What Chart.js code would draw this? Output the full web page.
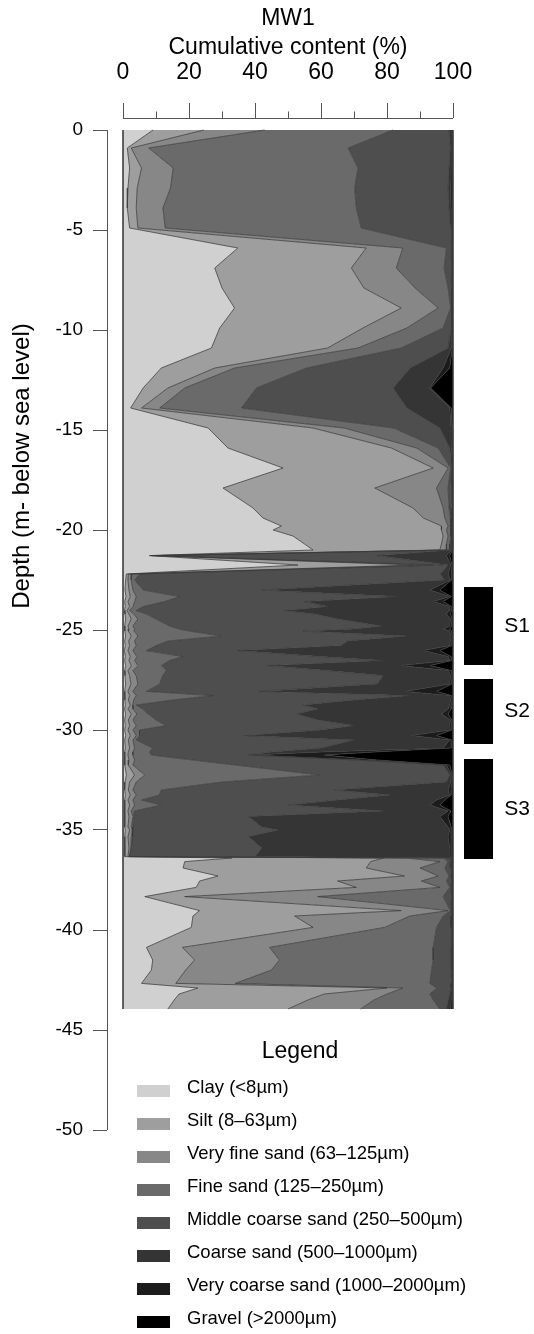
<!DOCTYPE html>
<html>
<head>
<meta charset="utf-8">
<script src="https://cdn.jsdelivr.net/npm/chart.js@4.4.0/dist/chart.umd.min.js"></script>
<style>
html, body { margin: 0; padding: 0; background: #fff; }
#wrap { position: relative; width: 534px; height: 1334px; font-family: "Liberation Sans", Arial, sans-serif; color: #000; }
#legendTitle { position: absolute; left: 200px; width: 200px; top: 1036px; text-align: center; font-size: 23px; line-height: 28px; }
.legBox { position: absolute; left: 137px; width: 33px; height: 12px; }
.legText { position: absolute; left: 187px; font-size: 18.5px; line-height: 22px; white-space: nowrap; }
</style>
</head>
<body>
<div id="wrap">
  <canvas id="profile" width="534" height="1334"></canvas>
  <div id="legendTitle">Legend</div>
  <div id="legend"></div>
</div>
<script>
// depth of each sample (m below sea level)
const depth = [
  0, -0.9, -1.9, -2.9, -3.9, -4.9, -5.9, -6.9, -7.9, -8.9,
  -9.9, -10.9, -11.9, -12.9, -13.9, -14.9, -15.9, -16.9, -17.9, -18.9,
  -19.4, -19.8, -20.0, -20.3, -20.7, -21.0, -21.28, -21.75, -22.2, -22.5,
  -23.0, -23.33, -23.58, -23.83, -24.03, -24.2, -24.45, -24.8, -24.95, -25.05,
  -25.3, -25.55, -25.78, -26.03, -26.33, -26.53, -26.78, -27.03, -27.28, -27.7,
  -28.07, -28.28, -28.5, -28.75, -28.95, -29.2, -29.5, -29.78, -30.0, -30.28,
  -30.5, -30.9, -31.1, -31.25, -31.5, -31.75, -32.25, -32.6, -33.0, -33.25,
  -33.5, -33.75, -34.05, -34.33, -34.85, -35.0, -35.33, -35.9, -36.33, -36.4,
  -36.58, -36.9, -37.3, -37.55, -37.87, -38.33, -39.03, -39.3, -39.87, -40.87,
  -41.5, -42.0, -42.67, -42.9, -43.2, -43.5, -43.95
];

// cumulative content (%) at the upper limit of each class
const cumClay = [
  9.1, 1.3, 2.0, 1.5, 1.3, 2.0, 34.8, 27.8, 30.0, 33.8,
  29.3, 26.8, 11.6, 6.1, 2.3, 25.8, 31.8, 48.5, 30.3, 39.4,
  42.4, 48.0, 45.5, 51.5, 55.0, 57.6, 8.0, 53.0, 1.0, 0.8,
  0.6, 0.9, 0.5, 0.7, 0.4, 0.6, 0.8, 0.5, 0.6, 0.5,
  0.8, 0.5, 0.7, 0.4, 0.7, 0.5, 0.8, 0.5, 0.6, 0.8,
  0.5, 0.6, 0.5, 0.7, 0.5, 0.8, 0.5, 0.7, 0.5, 0.8,
  0.5, 0.7, 0.5, 0.5, 0.6, 0.5, 1.0, 0.6, 0.5, 0.7,
  0.5, 0.6, 0.4, 0.6, 0.5, 0.7, 0.5, 0.6, 0.5, 33.0,
  18.7, 18.2, 28.8, 23.2, 22.2, 6.6, 23.2, 21.2, 20.7, 7.1,
  9.0, 8.6, 5.6, 22.7, 17.0, 15.5, 13.6
];
const cumSilt = [
  24.5, 2.5, 5.6, 4.3, 4.0, 4.5, 73.7, 69.2, 73.0, 84.3,
  72.7, 62.0, 27.8, 13.6, 5.6, 57.6, 81.3, 94.0, 76.3, 87.9,
  91.0, 96.5, 96.5, 97.0, 96.5, 96.0, 8.5, 88.0, 1.6, 1.5,
  1.8, 2.2, 1.5, 2.0, 1.2, 1.8, 2.5, 1.5, 1.8, 1.6,
  2.5, 1.7, 2.0, 1.5, 2.2, 1.8, 2.5, 1.5, 2.0, 2.4,
  1.5, 2.0, 1.6, 2.2, 1.5, 2.5, 1.6, 2.0, 1.5, 2.2,
  1.6, 2.0, 1.6, 1.5, 1.8, 1.6, 3.5, 2.0, 1.6, 2.2,
  1.5, 2.0, 1.5, 1.8, 1.5, 2.0, 1.5, 1.8, 1.5, 79.0,
  75.0, 73.7, 85.3, 65.0, 70.7, 18.7, 84.3, 52.0, 57.6, 18.0,
  21.7, 19.0, 16.0, 80.0, 61.0, 56.0, 50.0
];
const cumVeryFine = [
  42.9, 7.8, 15.2, 14.4, 12.1, 12.8, 84.8, 82.8, 88.5, 95.5,
  86.0, 71.2, 33.8, 18.7, 11.1, 67.0, 89.0, 98.5, 95.0, 97.0,
  97.5, 98.5, 98.0, 98.5, 98.0, 98.0, 9.0, 94.0, 2.6, 2.5,
  3.0, 4.0, 3.5, 3.0, 2.0, 3.2, 4.5, 3.0, 3.5, 3.3,
  4.5, 3.5, 4.0, 3.0, 4.2, 3.5, 4.5, 3.0, 4.0, 4.5,
  3.0, 4.0, 3.2, 3.0, 3.0, 4.2, 3.0, 4.0, 3.0, 4.0,
  3.0, 3.5, 3.0, 3.0, 3.5, 3.0, 6.6, 4.0, 3.0, 4.0,
  3.0, 3.5, 2.5, 3.0, 2.5, 2.8, 2.5, 2.4, 1.9, 86.0,
  96.0, 90.0, 95.5, 90.4, 96.0, 59.0, 98.5, 86.9, 79.3, 44.4,
  47.4, 45.0, 34.0, 84.8, 80.0, 76.0, 72.0
];
const cumFine = [
  81.8, 68.2, 71.2, 70.2, 70.7, 72.2, 98.0, 97.3, 98.5, 99.3,
  97.0, 84.3, 55.6, 40.4, 35.9, 82.0, 95.5, 99.3, 98.5, 98.8,
  99.2, 99.3, 99.2, 99.3, 99.0, 99.0, 10.0, 97.0, 5.0, 3.5,
  6.1, 17.2, 12.5, 6.0, 4.0, 7.0, 10.0, 14.1, 17.0, 20.0,
  29.8, 13.6, 10.0, 7.1, 18.2, 14.0, 11.6, 13.1, 12.0, 11.1,
  7.1, 27.3, 15.0, 4.0, 6.0, 7.6, 10.0, 13.1, 5.0, 5.0,
  4.0, 9.0, 8.0, 8.6, 21.0, 34.0, 59.6, 30.0, 11.6, 11.0,
  5.6, 11.6, 3.5, 3.2, 3.0, 3.0, 2.8, 2.5, 2.0, 97.0,
  98.5, 97.5, 98.8, 98.0, 99.0, 97.0, 99.2, 97.0, 95.0, 94.0,
  94.0, 93.5, 93.0, 95.0, 93.0, 94.0, 96.0
];
const cumMiddle = [
  98.8, 99.2, 98.8, 98.5, 98.8, 99.2, 99.5, 99.3, 99.5, 99.6,
  99.5, 98.5, 87.0, 81.8, 86.0, 96.0, 99.0, 99.6, 99.3, 99.4,
  99.5, 99.6, 99.5, 99.6, 99.5, 99.5, 77.0, 98.5, 96.0, 97.5,
  42.0, 83.3, 55.0, 62.0, 49.0, 58.0, 65.0, 78.3, 70.0, 54.5,
  85.9, 68.0, 66.0, 34.8, 60.0, 78.8, 43.9, 62.0, 78.8, 77.0,
  41.4, 87.0, 70.0, 54.5, 59.0, 52.5, 59.0, 70.0, 60.0, 36.9,
  70.0, 60.0, 45.0, 38.0, 70.0, 97.0, 99.0, 98.0, 64.0, 81.0,
  65.0, 50.0, 79.0, 38.0, 42.0, 47.0, 38.0, 42.0, 40.0, 99.0,
  99.3, 99.2, 99.4, 99.3, 99.5, 99.3, 99.5, 99.3, 99.3, 99.5,
  99.5, 99.5, 99.3, 99.3, 99.0, 98.5, 98.0
];
const cumCoarse = [
  99.5, 99.6, 99.4, 99.3, 99.4, 99.6, 99.7, 99.6, 99.7, 99.8,
  99.7, 99.5, 97.0, 92.9, 99.0, 99.4, 99.6, 99.8, 99.6, 99.7,
  99.7, 99.8, 99.7, 99.8, 99.7, 99.7, 98.0, 99.3, 98.5, 99.2,
  93.0, 99.0, 94.0, 99.0, 98.8, 98.0, 99.2, 99.0, 97.0, 99.0,
  99.3, 99.2, 99.0, 91.0, 98.5, 99.0, 84.0, 98.5, 99.2, 99.0,
  85.4, 99.0, 99.2, 99.0, 98.5, 96.5, 99.2, 99.0, 99.0, 87.4,
  99.0, 97.0, 60.0, 39.0, 72.0, 98.0, 99.5, 99.3, 98.5, 99.0,
  95.0, 93.0, 98.5, 96.0, 98.5, 99.0, 98.5, 99.0, 99.0, 99.5,
  99.6, 99.6, 99.7, 99.6, 99.7, 99.6, 99.7, 99.6, 99.6, 99.7,
  99.7, 99.7, 99.6, 99.6, 99.5, 99.4, 99.3
];
const cumVeryCoarse = [
  99.8, 99.8, 99.7, 99.7, 99.7, 99.8, 99.9, 99.8, 99.9, 99.9,
  99.9, 99.8, 99.0, 93.2, 99.5, 99.7, 99.8, 99.9, 99.8, 99.9,
  99.9, 99.9, 99.9, 99.9, 99.9, 99.9, 99.0, 99.7, 99.5, 99.6,
  96.0, 99.5, 97.0, 99.6, 99.5, 99.3, 99.7, 99.6, 99.0, 99.6,
  99.7, 99.7, 99.6, 96.0, 99.4, 99.6, 93.0, 99.5, 99.7, 99.6,
  95.0, 99.6, 99.7, 99.6, 99.4, 98.5, 99.7, 99.6, 99.6, 95.0,
  99.6, 99.5, 76.0, 61.0, 77.0, 99.0, 99.8, 99.7, 99.4, 99.5,
  97.5, 96.0, 99.4, 98.5, 99.4, 99.6, 99.4, 99.5, 99.5, 99.8,
  99.8, 99.8, 99.9, 99.8, 99.9, 99.8, 99.9, 99.8, 99.8, 99.9,
  99.9, 99.9, 99.8, 99.8, 99.8, 99.7, 99.7
];

const classNames = [
  'Clay (<8µm)', 'Silt (8–63µm)', 'Very fine sand (63–125µm)', 'Fine sand (125–250µm)',
  'Middle coarse sand (250–500µm)', 'Coarse sand (500–1000µm)',
  'Very coarse sand (1000–2000µm)', 'Gravel (>2000µm)'
];
const classColors = ['#d0d0d0', '#9e9e9e', '#878787', '#6a6a6a', '#4e4e4e', '#353535', '#1c1c1c', '#000000'];

const contentTicks = [0, 20, 40, 60, 80, 100];
const contentMinorTicks = [10, 30, 50, 70, 90];
const depthTicks = [0, -5, -10, -15, -20, -25, -30, -35, -40, -45, -50];

const sampleNames = ['S1', 'S2', 'S3'];
const sampleTop = [-22.85, -27.45, -31.45];
const sampleBottom = [-26.75, -30.7, -36.45];

const FONT = '"Liberation Sans", Arial, sans-serif';
const LINE = '#3a3a3a';

const toPoints = vals => vals.map((v, i) => ({ x: v, y: depth[i] }));
const layers = [cumClay, cumSilt, cumVeryFine, cumFine, cumMiddle, cumCoarse, cumVeryCoarse];

const base = { pointRadius: 0, borderWidth: 0.8, borderColor: LINE, tension: 0, borderJoinStyle: 'round', clip: 4 };
const datasets = [Object.assign({}, base, { label: 'edge', data: depth.map(d => ({ x: 0, y: d })), fill: false })];
layers.forEach((vals, i) => {
  datasets.push(Object.assign({}, base, { label: classNames[i], data: toPoints(vals), fill: '-1', backgroundColor: classColors[i] }));
});
// gravel closes the profile at 100 %
datasets.push(Object.assign({}, base, { label: classNames[7], data: depth.map(d => ({ x: 100, y: d })), fill: '-1', backgroundColor: classColors[7] }));

const decor = {
  id: 'decor',
  afterDraw(chart) {
    const { ctx, chartArea: area, scales: { x, y } } = chart;
    const al = v => Math.round(v) + 0.5;
    ctx.save();
    ctx.strokeStyle = '#555';
    ctx.lineWidth = 1;
    ctx.beginPath();
    const ty = al(area.top);
    ctx.moveTo(x.getPixelForValue(0), ty);
    ctx.lineTo(x.getPixelForValue(100), ty);
    contentMinorTicks.forEach(v => {
      const p = al(x.getPixelForValue(v));
      ctx.moveTo(p, ty);
      ctx.lineTo(p, ty - 7);
    });
    const lx = al(area.left);
    ctx.moveTo(lx, y.getPixelForValue(0));
    ctx.lineTo(lx, y.getPixelForValue(-50));
    ctx.stroke();

    // sample intervals
    ctx.fillStyle = '#000';
    ctx.font = '21px ' + FONT;
    ctx.textAlign = 'center';
    ctx.textBaseline = 'middle';
    sampleNames.forEach((name, i) => {
      const t = y.getPixelForValue(sampleTop[i]);
      const b = y.getPixelForValue(sampleBottom[i]);
      ctx.fillRect(464, t, 29, b - t);
      ctx.fillText(name, 517, (t + b) / 2);
    });

    // titles
    ctx.font = '23px ' + FONT;
    const cx = (x.getPixelForValue(0) + x.getPixelForValue(100)) / 2;
    ctx.fillText('MW1', cx, 19);
    ctx.fillText('Cumulative content (%)', cx, 48);
    ctx.translate(22, 466);
    ctx.rotate(-Math.PI / 2);
    ctx.font = '24px ' + FONT;
    ctx.fillText('Depth (m- below sea level)', 0, 0);
    ctx.restore();
  }
};

new Chart(document.getElementById('profile').getContext('2d'), {
  type: 'line',
  data: { datasets: datasets },
  plugins: [decor],
  options: {
    responsive: false,
    animation: false,
    indexAxis: 'y',
    layout: { padding: { left: 0, top: 0, right: 81, bottom: 204 } },
    plugins: {
      legend: { display: false },
      tooltip: { enabled: false },
      filler: { drawTime: 'beforeDatasetsDraw' }
    },
    scales: {
      x: {
        type: 'linear',
        position: 'top',
        min: -4.85,
        max: 100,
        afterBuildTicks: axis => { axis.ticks = contentTicks.map(v => ({ value: v })); },
        afterFit: axis => { axis.height = 118; },
        border: { display: false },
        grid: { drawOnChartArea: false, drawTicks: true, tickLength: 15, tickColor: '#555' },
        ticks: { autoSkip: false, maxRotation: 0, padding: 17, color: '#000', font: { family: FONT, size: 23 } }
      },
      y: {
        type: 'linear',
        min: -50,
        max: 0.6,
        afterBuildTicks: axis => { axis.ticks = depthTicks.map(v => ({ value: v })); },
        afterFit: axis => { axis.width = 107; },
        border: { display: false },
        grid: { drawOnChartArea: false, drawTicks: true, tickLength: 14, tickColor: '#555' },
        ticks: { autoSkip: false, padding: 10, color: '#000', font: { family: FONT, size: 19 }, callback: v => String(v) }
      }
    }
  }
});

// legend
const legend = document.getElementById('legend');
classNames.forEach((name, i) => {
  const mid = 1087 + 33 * i;
  const box = document.createElement('div');
  box.className = 'legBox';
  box.style.top = (mid - 2) + 'px';
  box.style.background = classColors[i];
  legend.appendChild(box);
  const txt = document.createElement('div');
  txt.className = 'legText';
  txt.style.top = (mid - 11) + 'px';
  txt.textContent = name;
  legend.appendChild(txt);
});
</script>
</body>
</html>
